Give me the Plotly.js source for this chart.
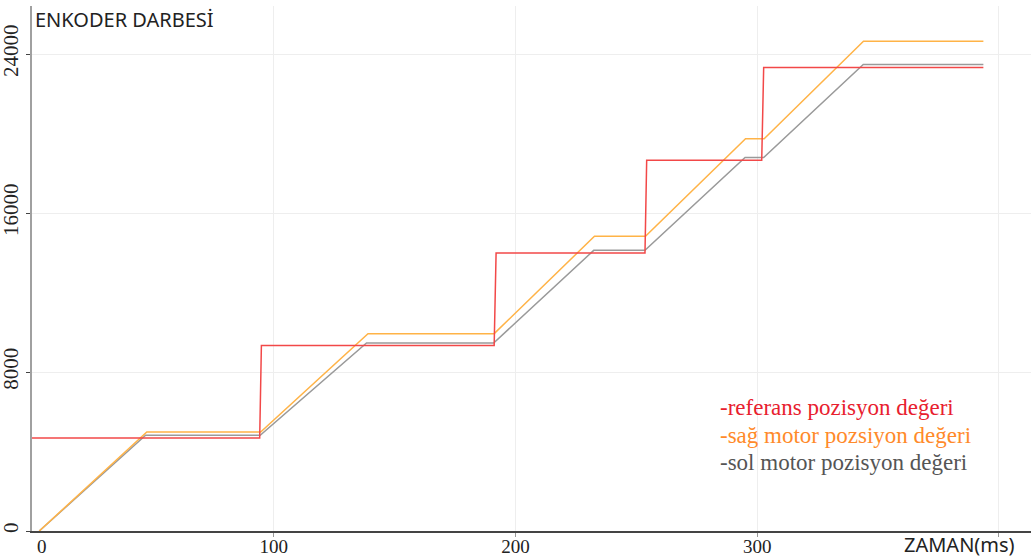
<!DOCTYPE html>
<html>
<head>
<meta charset="utf-8">
<script src="https://cdn.plot.ly/plotly-3.0.1.min.js"></script>
<style>html,body{margin:0;padding:0;background:#fff;}#chart{width:1031px;height:558px;}</style>
</head>
<body>
<div id="chart"></div>
<script>
// Reference position (red)
const refTime = [0, 94.2, 94.9, 191.2, 192.0, 253.6, 254.3, 301.9, 302.7, 393.6];
const refValue = [4680, 4680, 9330, 9330, 13990, 13990, 18650, 18650, 23320, 23320];
// Right motor position (orange)
const sagTime = [3, 47.5, 94.6, 139.0, 191.2, 232.7, 253.8, 295.2, 302.9, 344.0, 393.6];
const sagValue = [0, 4980, 4980, 9930, 9930, 14830, 14830, 19740, 19740, 24640, 24640];
// Left motor position (grey)
const solTime = [3, 47.0, 94.4, 138.4, 191.0, 232.4, 253.6, 295.0, 302.7, 343.9, 393.6];
const solValue = [0, 4815, 4815, 9460, 9460, 14120, 14120, 18790, 18790, 23470, 23470];

const xTicks = [100, 200, 300, 400];
const xTickText = ['100', '200', '300', ''];
const yTicks = [0, 8000, 16000, 24000];
const legendNames = ['-referans pozisyon değeri', '-sağ motor pozsiyon değeri', '-sol motor pozisyon değeri'];
const titleText = 'ENKODER DARBESİ';
const xTitleText = 'ZAMAN(ms)';

const traces = [
  {x: solTime, y: solValue, mode: 'lines', line: {color: '#9a9a9a', width: 1.5}, name: legendNames[2], hoverinfo: 'x+y'},
  {x: sagTime, y: sagValue, mode: 'lines', line: {color: '#ffb347', width: 1.5}, name: legendNames[1], hoverinfo: 'x+y'},
  {x: refTime, y: refValue, mode: 'lines', line: {color: '#f24848', width: 1.5}, name: legendNames[0], hoverinfo: 'x+y'}
];

const serif = 'Liberation Serif, Times New Roman, serif';
const sans = 'Noto Sans, Open Sans, sans-serif';

const layout = {
  width: 1031, height: 558,
  margin: {l: 32, r: 0, t: 6, b: 27},
  paper_bgcolor: '#fff', plot_bgcolor: '#fff',
  showlegend: false,
  title: {text: titleText, x: 35/1031, xanchor: 'left', xref: 'container', y: 1 - 20/558, yanchor: 'middle', yref: 'container',
          font: {family: sans, size: 20, color: '#222'}},
  xaxis: {
    range: [0, 413.3], tickvals: xTicks, ticktext: xTickText,
    showgrid: true, gridcolor: '#eeeeee', gridwidth: 1,
    showline: true, linecolor: '#444', linewidth: 1.5,
    ticks: 'outside', ticklen: 4, tickcolor: '#999',
    ticklabelstandoff: -6,
    tickfont: {family: serif, size: 19, color: '#222'},
    zeroline: false
  },
  yaxis: {
    range: [0, 26415], tickvals: yTicks, ticktext: yTicks.map(String),
    tickangle: -90,
    showgrid: true, gridcolor: '#eeeeee', gridwidth: 1,
    showline: true, linecolor: '#a0a0a0', linewidth: 2,
    ticks: 'outside', ticklen: 4, tickcolor: '#444',
    tickfont: {family: serif, size: 21, color: '#222'},
    zeroline: false
  },
  annotations: [
    {text: '0', xref: 'x', yref: 'paper', x: 4.2, y: 0, yanchor: 'middle', yshift: -15, showarrow: false,
     font: {family: serif, size: 19, color: '#222'}},
    {text: xTitleText, xref: 'x', yref: 'paper', x: 383.7, y: 0, yanchor: 'middle', yshift: -13, showarrow: false,
     font: {family: sans, size: 20, color: '#222'}},
    {text: legendNames[0], xref: 'x', yref: 'y', x: 284, y: 6224, xanchor: 'left', yanchor: 'middle', showarrow: false,
     font: {family: serif, size: 23, color: '#e8202e'}},
    {text: legendNames[1], xref: 'x', yref: 'y', x: 284, y: 4815, xanchor: 'left', yanchor: 'middle', showarrow: false,
     font: {family: serif, size: 23, color: '#ff8a2a'}},
    {text: legendNames[2], xref: 'x', yref: 'y', x: 284, y: 3456, xanchor: 'left', yanchor: 'middle', showarrow: false,
     font: {family: serif, size: 23, color: '#555'}}
  ]
};

Plotly.newPlot('chart', traces, layout, {displayModeBar: false, staticPlot: true});
</script>
</body>
</html>
